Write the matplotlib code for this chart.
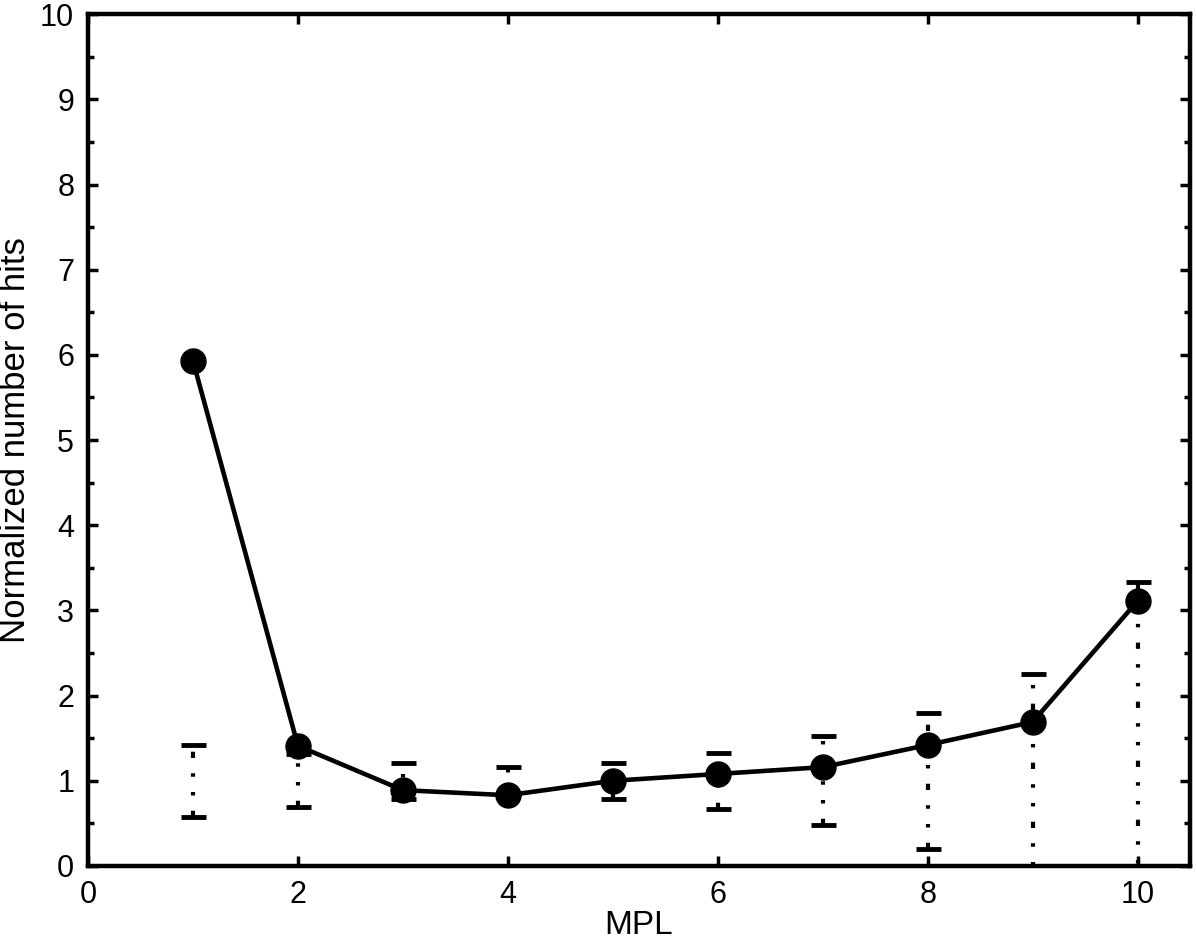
#!/usr/bin/env python

import numpy as np
import matplotlib
matplotlib.use("Agg")
import matplotlib.pyplot as plt
from matplotlib.ticker import MultipleLocator

plt.rcParams['font.family'] = ['Liberation Sans', 'DejaVu Sans']
plt.rcParams['lines.scale_dashes'] = False

# MPL values and normalized hits
mpl = [1, 2, 3, 4, 5, 6, 7, 8, 9, 10]
hits = [5.93, 1.41, 0.89, 0.83, 1.00, 1.08, 1.16, 1.42, 1.69, 3.11]

# expected level (random) and its spread
expected = [1, 1, 1, 1, 1, 1, 1, 1, 1, 1]
spread = [0.42, 0.31, 0.21, 0.16, 0.21, 0.33, 0.52, 0.80, 1.25, 2.33]

fig = plt.figure(figsize=(11.96, 9.43), dpi=100)
ax = fig.add_axes([0.0736, 0.0817, 0.9214, 0.9033])

# error bars around the expected level, no connecting line
eb = ax.errorbar(mpl, expected, yerr=spread, fmt='none', ecolor='black',
                 elinewidth=3, capsize=9, capthick=3.5)
for lc in eb[2]:
    lc.set_linestyle((0, (4.5, 11, 2.5, 11, 2.5, 11)))

ax.plot(mpl, hits, '-o', color='black', lw=3.3, ms=18, zorder=3)

ax.set_xlim(0, 10.5)
ax.set_ylim(0, 10)
ax.set_xticks(np.arange(0, 11, 2))
ax.set_yticks(np.arange(0, 11, 1))
ax.yaxis.set_minor_locator(MultipleLocator(0.5))

ax.tick_params(which='both', direction='in', top=True, right=True,
               labelsize=22, width=2.5, pad=10)
ax.tick_params(which='major', length=7)
ax.tick_params(which='minor', length=4)
for s in ax.spines.values():
    s.set_linewidth(3.2)

ax.set_xlabel("MPL", fontsize=24, labelpad=0)
ax.set_ylabel("Normalized number of hits", fontsize=25, labelpad=6)

fig.savefig("out.png", dpi=100)
